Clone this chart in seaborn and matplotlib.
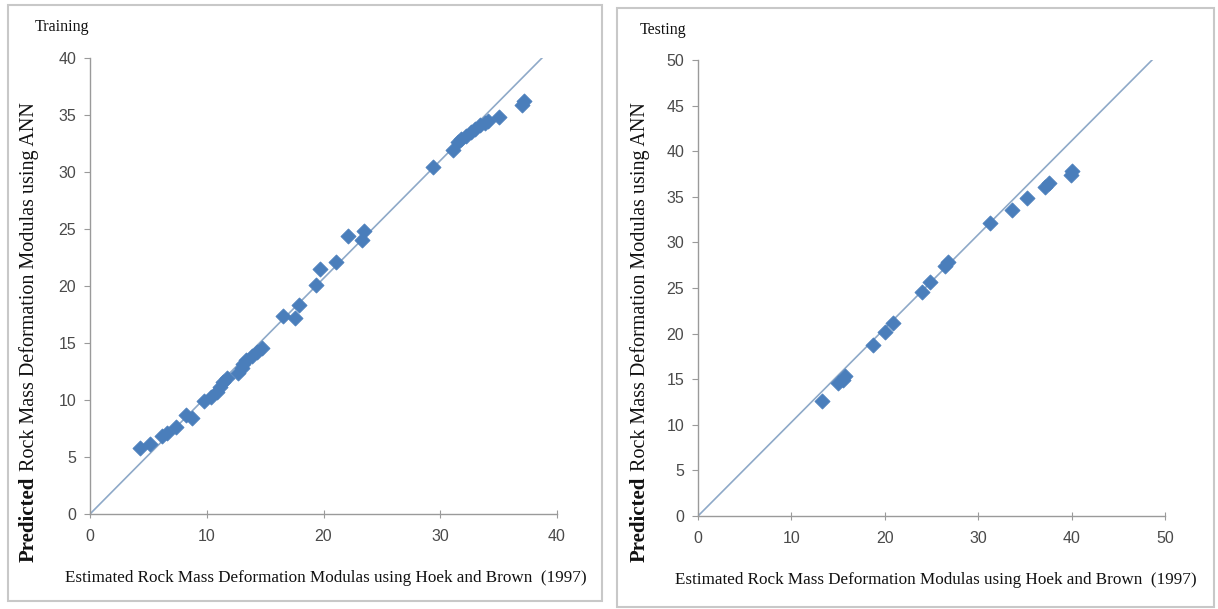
import matplotlib
matplotlib.use("Agg")
import matplotlib.pyplot as plt
import seaborn as sns
import pandas as pd
from matplotlib.patches import Rectangle

# ---- data ----
train_x = [4.3, 5.1, 6.2, 6.6, 7.4, 8.2, 8.7, 9.8, 10.4, 10.9, 11.1, 11.4, 11.7,
           12.7, 13.0, 13.1, 13.4, 13.9, 14.3, 14.7, 16.5, 17.6, 17.9, 19.4, 19.7,
           21.1, 22.1, 23.3, 23.5, 29.4, 31.1, 31.5, 31.8, 32.2, 32.6, 33.0, 33.4,
           33.8, 34.1, 35.0, 37.0, 37.2]
train_y = [5.8, 6.1, 6.8, 7.1, 7.6, 8.7, 8.4, 9.9, 10.3, 10.7, 11.1, 11.6, 11.9,
           12.4, 12.8, 13.2, 13.5, 13.9, 14.2, 14.6, 17.4, 17.2, 18.3, 20.1, 21.5,
           22.1, 24.4, 24.0, 24.8, 30.4, 31.9, 32.6, 32.9, 33.2, 33.5, 33.8, 34.1,
           34.3, 34.5, 34.8, 35.9, 36.2]
test_x = [13.3, 15.0, 15.5, 15.7, 18.7, 20.0, 20.9, 24.0, 24.8, 26.4, 26.8, 31.3,
          33.6, 35.2, 37.2, 37.6, 39.9, 40.0]
test_y = [12.6, 14.6, 14.9, 15.3, 18.7, 20.2, 21.2, 24.6, 25.7, 27.4, 27.9, 32.1,
          33.6, 34.9, 36.1, 36.5, 37.4, 37.8]
train_fit_x = [0, 39.1]
train_fit_y = [0, 40.4]
test_fit_x = [0, 49.1]
test_fit_y = [0, 50.5]
train_ticks = [0, 5, 10, 15, 20, 25, 30, 35, 40]
train_xticks = [0, 10, 20, 30, 40]
test_ticks = [0, 5, 10, 15, 20, 25, 30, 35, 40, 45, 50]
test_xticks = [0, 10, 20, 30, 40, 50]
titles = ["Training", "Testing"]
xlabel = "Estimated Rock Mass Deformation Modulas using Hoek and Brown  (1997)"
ylabel_bold = "Predicted"
ylabel_rest = "Rock Mass Deformation Modulas using ANN"

sns.set_theme(style="white")
plt.rcParams["font.family"] = ["Liberation Serif", "DejaVu Serif"]

W, H = 1218, 609
fig = plt.figure(figsize=(W / 100, H / 100), dpi=100)
fig.patch.set_facecolor("white")

# panel borders
for (x0, y0, x1, y1) in [(8, 5, 602, 601), (617, 8, 1214, 607)]:
    fig.patches.append(Rectangle((x0 / W, 1 - y1 / H), (x1 - x0) / W, (y1 - y0) / H,
                                 transform=fig.transFigure, fill=False,
                                 edgecolor="#c8c8c8", linewidth=1.5))

blue = "#4A7EBB"
line_c = "#8EA9C8"
tick_font = ["Liberation Sans", "DejaVu Sans"]

panels = [
    dict(pos=(90, 58, 557, 514), xs=train_x, ys=train_y, fx=train_fit_x, fy=train_fit_y,
         yt=train_ticks, xt=train_xticks, lim=40, title=titles[0], tpos=(35, 27),
         ylx=29, xlx=65, xly=578),
    dict(pos=(698, 60, 1165, 516), xs=test_x, ys=test_y, fx=test_fit_x, fy=test_fit_y,
         yt=test_ticks, xt=test_xticks, lim=50, title=titles[1], tpos=(640, 30),
         ylx=640, xly=580, xlx=675),
]

for p in panels:
    x0, y0, x1, y1 = p["pos"]
    ax = fig.add_axes([x0 / W, 1 - y1 / H, (x1 - x0) / W, (y1 - y0) / H])
    sns.lineplot(x=p["fx"], y=p["fy"], ax=ax, color=line_c, linewidth=1.2)
    df = pd.DataFrame({"x": p["xs"], "y": p["ys"]})
    sns.scatterplot(data=df, x="x", y="y", ax=ax, marker="D", s=60, color=blue,
                    edgecolor=blue, linewidth=0.5, zorder=3)
    ax.set_xlim(0, p["lim"])
    ax.set_ylim(0, p["lim"])
    ax.set_xticks(p["xt"])
    ax.set_yticks(p["yt"])
    ax.set_xlabel("")
    ax.set_ylabel("")
    for s in ["top", "right"]:
        ax.spines[s].set_visible(False)
    for s in ["left", "bottom"]:
        ax.spines[s].set_color("#9a9a9a")
        ax.spines[s].set_linewidth(1.0)
    ax.tick_params(axis="y", direction="out", length=4, color="#9a9a9a", width=0.8,
                   labelsize=11.5, labelcolor="#4a4a4a", pad=6)
    ax.tick_params(axis="x", direction="inout", length=6, color="#9a9a9a", width=0.8,
                   labelsize=11.5, labelcolor="#4a4a4a", pad=8)
    ax.tick_params(left=True, bottom=True)
    for lab in ax.get_xticklabels() + ax.get_yticklabels():
        lab.set_fontfamily(tick_font)
    ax.set_facecolor("white")
    ax.grid(False)

    fig.text(p["tpos"][0] / W, 1 - p["tpos"][1] / H, p["title"], fontsize=11.5,
             ha="left", va="center", color="#111111")
    # y label: bold part + rest
    fig.text(p["ylx"] / W, 1 - 562 / H, ylabel_bold, rotation=90, fontsize=15,
             fontweight="bold", ha="center", va="bottom", color="#111111")
    fig.text(p["ylx"] / W, 1 - 471 / H, ylabel_rest, rotation=90, fontsize=14.5,
             ha="center", va="bottom", color="#111111")
    fig.text(p["xlx"] / W, 1 - p["xly"] / H, xlabel, fontsize=12.3, ha="left",
             va="center", color="#111111")

fig.savefig("out.png", dpi=100, facecolor="white")
